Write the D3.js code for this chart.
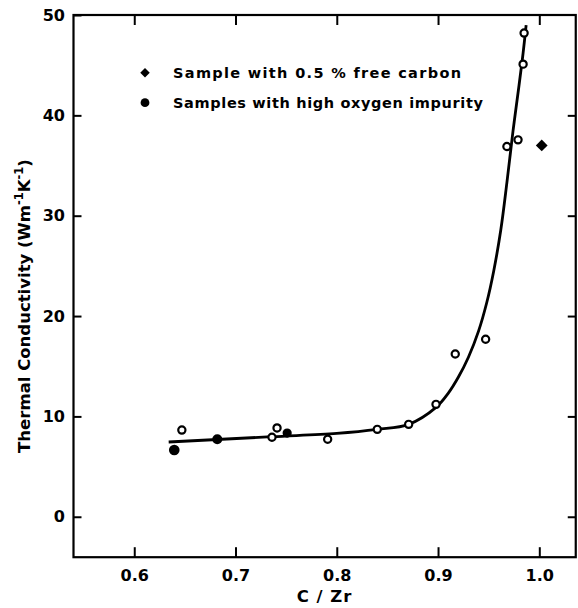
<!DOCTYPE html>
<html>
<head>
<meta charset="utf-8">
<script src="https://cdn.jsdelivr.net/npm/d3@7"></script>
<style>
  html, body { margin: 0; padding: 0; background: #fff; }
  svg { display: block; }
  text { font-family: "DejaVu Sans", sans-serif; font-weight: bold; fill: #000; }
</style>
</head>
<body>
<svg id="chart" width="578" height="608"></svg>
<script>
// ---- data ----
const xTicks = [0.6, 0.7, 0.8, 0.9, 1.0];
const yTicks = [0, 10, 20, 30, 40, 50];
const xTickLabels = ["0.6", "0.7", "0.8", "0.9", "1.0"];
const yTickLabels = ["0", "10", "20", "30", "40", "50"];

// open circles (regular samples)
const openX = [0.647, 0.736, 0.741, 0.791, 0.840, 0.871, 0.898, 0.917, 0.947, 0.968, 0.979, 0.984, 0.985];
const openY = [8.64, 7.92, 8.85, 7.72, 8.71, 9.21, 11.2, 16.22, 17.69, 36.9, 37.56, 45.1, 48.2];

// filled circles: samples with high oxygen impurity
const oxyX = [0.6395, 0.682, 0.751];
const oxyY = [6.65, 7.72, 8.34];

// filled diamond: sample with 0.5 % free carbon
const carbonX = [1.0024];
const carbonY = [37.0];

// fitted curve
const curveX = [0.634, 0.736, 0.800, 0.840, 0.871, 0.898, 0.910, 0.920, 0.930, 0.940, 0.948, 0.955, 0.962, 0.968, 0.974, 0.980, 0.984, 0.987];
const curveY = [7.45, 7.98, 8.31, 8.71, 9.21, 10.9, 12.3, 13.9, 15.9, 18.5, 21.3, 24.5, 28.6, 33.3, 38.4, 43.0, 46.2, 49.0];

const legendLabels = ["Sample with 0.5 % free carbon", "Samples with high oxygen impurity"];
const xTitle = "C / Zr";

// ---- layout ----
const svg = d3.select("#chart");
const L = 73.5, R = 575.75, T = 15, B = 557.2;

const x = d3.scaleLinear().domain([0.54, 1.036]).range([L, R]);
const y = d3.scaleLinear().domain([-4.03, 50]).range([B, T]);

// axes
const gL = svg.append("g").attr("transform", `translate(${L},0)`)
  .call(d3.axisLeft(y).tickValues(yTicks).tickSize(-8).tickPadding(8.5)
    .tickFormat((d, i) => yTickLabels[i]));
const gR = svg.append("g").attr("transform", `translate(${R},0)`)
  .call(d3.axisRight(y).tickValues(yTicks.slice(0, 5)).tickSize(-8).tickFormat(""));
const gB = svg.append("g").attr("transform", `translate(0,${B})`)
  .call(d3.axisBottom(x).tickValues(xTicks).tickSize(-10).tickPadding(12)
    .tickFormat((d, i) => xTickLabels[i]));
const gT = svg.append("g").attr("transform", `translate(0,${T})`)
  .call(d3.axisTop(x).tickValues(xTicks).tickSize(-10).tickFormat(""));

[gL, gR, gB, gT].forEach(g => {
  g.select(".domain").remove();
  g.selectAll(".tick line").attr("stroke", "#000").attr("stroke-width", 2);
  g.selectAll(".tick text").attr("font-size", 16).attr("font-family", "DejaVu Sans").attr("font-weight", "bold").attr("fill", "#000");
});

// frame
svg.append("rect").attr("x", L).attr("y", T).attr("width", R - L).attr("height", B - T)
  .attr("fill", "none").attr("stroke", "#000").attr("stroke-width", 2.2);

// curve
const curveData = curveX.map((v, i) => [v, curveY[i]]);
svg.append("path").datum(curveData)
  .attr("d", d3.line().x(d => x(d[0])).y(d => y(d[1])).curve(d3.curveCatmullRom.alpha(0.5)))
  .attr("fill", "none").attr("stroke", "#000").attr("stroke-width", 2.8);

// open circles
svg.append("g").selectAll("circle").data(openX.map((v, i) => [v, openY[i]])).join("circle")
  .attr("cx", d => x(d[0])).attr("cy", d => y(d[1])).attr("r", 3.6)
  .attr("fill", "#fff").attr("stroke", "#000").attr("stroke-width", 2.2);

// filled circles
const oxyR = [5.3, 5.0, 4.6];
svg.append("g").selectAll("circle").data(oxyX.map((v, i) => [v, oxyY[i]])).join("circle")
  .attr("cx", d => x(d[0])).attr("cy", d => y(d[1])).attr("r", (d, i) => oxyR[i])
  .attr("fill", "#000");

// diamond
const diamond = d3.symbol().type(d3.symbolDiamond2).size(88);
svg.append("g").selectAll("path").data(carbonX.map((v, i) => [v, carbonY[i]])).join("path")
  .attr("transform", d => `translate(${x(d[0])},${y(d[1])})`)
  .attr("d", diamond).attr("fill", "#000");

// legend
svg.append("path").attr("transform", "translate(145,72.7)")
  .attr("d", d3.symbol().type(d3.symbolDiamond2).size(58)).attr("fill", "#000");
svg.append("circle").attr("cx", 145).attr("cy", 102.7).attr("r", 4.4).attr("fill", "#000");
svg.append("text").attr("x", 173).attr("y", 77.8).attr("font-size", 14.5)
  .attr("textLength", 288).attr("lengthAdjust", "spacing").text(legendLabels[0]);
svg.append("text").attr("x", 173).attr("y", 108.3).attr("font-size", 14.5)
  .attr("textLength", 310).attr("lengthAdjust", "spacing").text(legendLabels[1]);

// x title
svg.append("text").attr("x", (L + R) / 2).attr("y", 602).attr("text-anchor", "middle")
  .attr("font-size", 16.5).attr("letter-spacing", 1).text(xTitle);

// y title
const yt = svg.append("text").attr("transform", "translate(30,306) rotate(-90)")
  .attr("text-anchor", "middle").attr("font-size", 16.5);
yt.append("tspan").text("Thermal Conductivity (Wm");
yt.append("tspan").attr("dy", -7).attr("font-size", 11.5).text("-1");
yt.append("tspan").attr("dy", 7).text("K");
yt.append("tspan").attr("dy", -7).attr("font-size", 11.5).text("-1");
yt.append("tspan").attr("dy", 7).text(")");
</script>
</body>
</html>
